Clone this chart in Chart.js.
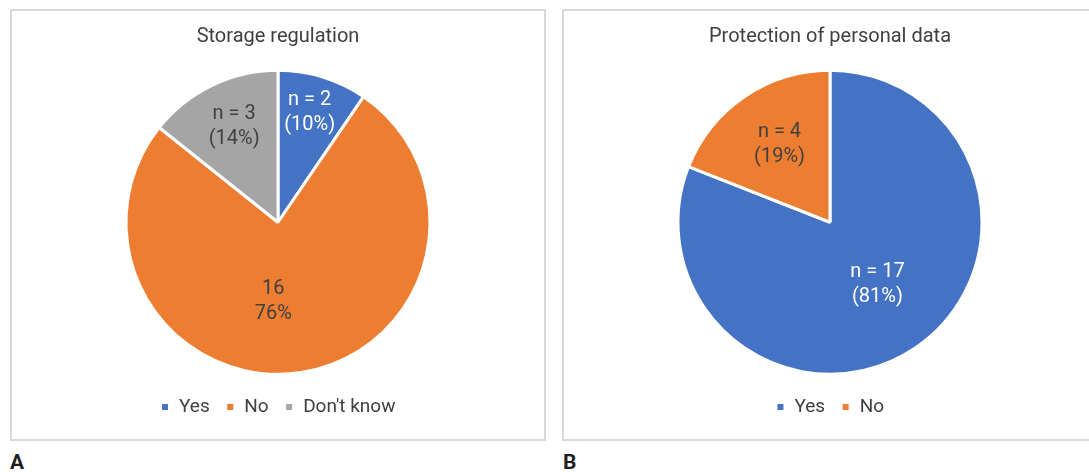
<!DOCTYPE html>
<html>
<head>
<meta charset="utf-8">
<script src="https://cdn.jsdelivr.net/npm/chart.js@4"></script>
<style>
  body { margin: 0; background: #fff; width: 1089px; height: 472px; overflow: hidden; position: relative;
         font-family: 'Liberation Sans Narrow', Roboto, sans-serif; }
  .panel { position: absolute; top: 9px; width: 532px; height: 428px; border: 2px solid #d9d9d9; }
  #panelA { left: 10px; }
  #panelB { left: 562px; }
  .panel canvas { position: absolute; left: 0; top: 0; }
  .tag { position: absolute; top: 450px; font-size: 21px; font-weight: bold; color: #231f20; }
</style>
</head>
<body>
<div class="panel" id="panelA"><canvas id="chartA" width="532" height="428"></canvas></div>
<div class="panel" id="panelB"><canvas id="chartB" width="532" height="428"></canvas></div>
<div class="tag" style="left:10px">A</div>
<div class="tag" style="left:563px">B</div>

<script>
// Datos
const storageCategories = ['Yes', 'No', "Don't know"];
const storageValues = [2, 16, 3];
const storageLabels = [['n = 2', '(10%)'], ['16', '76%'], ['n = 3', '(14%)']];

const protectionCategories = ['Yes', 'No'];
const protectionValues = [17, 4];
const protectionLabels = [['n = 17', '(81%)'], ['n = 4', '(19%)']];

// Colores
const BLUE = '#4472C4';
const ORANGE = '#ED7D31';
const GRAY = '#A5A5A5';
const TEXT = '#404040';

Chart.defaults.font.family = "'Liberation Sans Narrow', Roboto, sans-serif";
Chart.defaults.color = TEXT;

// Etiquetas dentro de cada porción: [fracción del radio, desplazamiento angular en grados, color]
const sliceLabelPlugin = {
    id: 'sliceLabels',
    afterDatasetsDraw(chart, args, opts) {
        const ctx = chart.ctx;
        const arcs = chart.getDatasetMeta(0).data;
        ctx.save();
        ctx.font = '20px ' + Chart.defaults.font.family;
        ctx.textAlign = 'center';
        ctx.textBaseline = 'middle';
        arcs.forEach((arc, i) => {
            const p = arc.getProps(['x', 'y', 'startAngle', 'endAngle', 'outerRadius'], true);
            const [frac, shift, color] = opts.place[i];
            const mid = (p.startAngle + p.endAngle) / 2 + shift * Math.PI / 180;
            const cx = p.x + Math.cos(mid) * p.outerRadius * frac;
            const cy = p.y + Math.sin(mid) * p.outerRadius * frac;
            const lines = opts.lines[i];
            ctx.fillStyle = color;
            lines.forEach((t, j) => {
                ctx.fillText(t, cx, cy + (j - (lines.length - 1) / 2) * 25);
            });
        });
        ctx.restore();
    }
};

function makePie(id, title, categories, values, colors, lines, place) {
    const ctx = document.getElementById(id).getContext('2d');
    return new Chart(ctx, {
        type: 'pie',
        data: {
            labels: categories,
            datasets: [{
                data: values,
                backgroundColor: colors,
                borderColor: '#fff',
                borderWidth: 3,
                radius: 152
            }]
        },
        options: {
            responsive: false,
            animation: false,
            layout: { padding: { bottom: 12.5 } },
            plugins: {
                title: {
                    display: true,
                    text: title,
                    color: TEXT,
                    font: { size: 20, weight: 'normal' },
                    padding: { top: 14, bottom: 14 }
                },
                legend: {
                    position: 'bottom',
                    labels: {
                        boxWidth: 9,
                        boxHeight: 9,
                        padding: 16,
                        color: TEXT,
                        font: { size: 19 }
                    }
                },
                tooltip: { enabled: false },
                sliceLabels: { lines: lines, place: place }
            }
        },
        plugins: [sliceLabelPlugin]
    });
}

makePie('chartA', 'Storage regulation', storageCategories, storageValues,
    [BLUE, ORANGE, GRAY], storageLabels,
    [[0.75, -1, '#fff'], [0.52, 12, TEXT], [0.69, 1, TEXT]]);

makePie('chartB', 'Protection of personal data', protectionCategories, protectionValues,
    [BLUE, ORANGE], protectionLabels,
    [[0.515, -3, '#fff'], [0.61, 1.3, TEXT]]);
</script>
</body>
</html>
